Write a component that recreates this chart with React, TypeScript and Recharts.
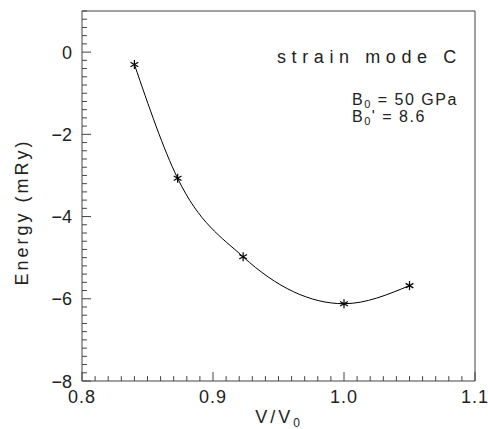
import React from 'react';
import { ComposedChart, Line, XAxis, YAxis, ReferenceLine } from 'recharts';

// strain mode C: E(V) points and fitted curve
const vRatio = [0.84, 0.873, 0.923, 1.0, 1.05];
const energy = [-0.3, -3.07, -4.98, -6.12, -5.68];

const xMajorTicks = [0.8, 0.9, 1.0, 1.1];
const yMajorTicks = [-8, -6, -4, -2, 0];
const xMinorStep = 0.01;
const yMinorStep = 0.2;

const xTicks = Array.from({ length: 31 }, (_, i) => Math.round((0.8 + i * xMinorStep) * 100) / 100);
const yTicks = Array.from({ length: 46 }, (_, i) => Math.round((-8 + i * yMinorStep) * 10) / 10);

const X_MIN = 0.8;
const X_MAX = 1.1;
const Y_MIN = -8;
const Y_MAX = 1;

const data = vRatio.map((v, i) => ({ v, e: energy[i] }));

const INK = '#222';
const AXIS = '#444';
const FONT = '"Liberation Sans", Arial, sans-serif';
const X_MARGIN = 8;
const Y_MARGIN = 10;

// inward tick lengths, in axis units (~5px minor, ~9px major)
const X_TICK_LEN = { minor: 0.12, major: 0.22 };
const Y_TICK_LEN = { minor: 0.0038, major: 0.0069 };

const isMajor = (list: number[], v: number) => list.some((m) => Math.abs(m - v) < 1e-6);

function XLabel({ x, y, payload }: any) {
  const v = payload.value;
  if (!isMajor(xMajorTicks, v)) return <g />;
  return (
    <text x={x} y={y - X_MARGIN + 22} textAnchor="middle" fill={INK} fontSize={18} fontFamily={FONT} letterSpacing={1}>
      {v.toFixed(1)}
    </text>
  );
}

function YLabel({ x, y, payload }: any) {
  const v = payload.value;
  if (!isMajor(yMajorTicks, v)) return <g />;
  return (
    <text x={x} y={y + 6.5} textAnchor="end" fill={INK} fontSize={18} fontFamily={FONT}>
      {v < 0 ? '\u2212' + Math.abs(v) : String(v)}
    </text>
  );
}

function Asterisk({ cx, cy }: any) {
  const r = 4.5;
  const dx = r * Math.cos(Math.PI / 6);
  const dy = r * Math.sin(Math.PI / 6);
  return (
    <g stroke="#000" strokeWidth={1.2}>
      <line x1={cx} y1={cy - r} x2={cx} y2={cy + r} />
      <line x1={cx - dx} y1={cy - dy} x2={cx + dx} y2={cy + dy} />
      <line x1={cx - dx} y1={cy + dy} x2={cx + dx} y2={cy - dy} />
    </g>
  );
}

const textStyle: React.CSSProperties = {
  position: 'absolute',
  fontFamily: FONT,
  color: INK,
  whiteSpace: 'nowrap',
  lineHeight: 1,
};

const sub = (s: string, size: number, top: number) => (
  <span style={{ fontSize: size, position: 'relative', top }}>{s}</span>
);

export default function App() {
  return (
    <div style={{ position: 'absolute', left: 0, top: 0, width: 488, height: 429, background: '#fff' }}>
      <ComposedChart width={488} height={429} data={data} margin={{ top: 11, right: 13, bottom: 0, left: 0 }}>
        <XAxis
          dataKey="v"
          type="number"
          domain={[X_MIN, X_MAX]}
          allowDataOverflow
          ticks={xTicks}
          interval={0}
          tickSize={0}
          tickMargin={X_MARGIN}
          tick={<XLabel />}
          tickLine={false}
          axisLine={{ stroke: AXIS }}
          height={48}
        />
        <YAxis
          type="number"
          domain={[Y_MIN, Y_MAX]}
          allowDataOverflow
          ticks={yTicks}
          interval={0}
          tickSize={0}
          tickMargin={Y_MARGIN}
          tick={<YLabel />}
          tickLine={false}
          axisLine={{ stroke: AXIS }}
          width={82}
        />
        {xTicks.map((t) => (
          <ReferenceLine
            key={`xt-${t}`}
            segment={[
              { x: t, y: Y_MIN },
              { x: t, y: Y_MIN + (isMajor(xMajorTicks, t) ? X_TICK_LEN.major : X_TICK_LEN.minor) },
            ]}
            stroke={AXIS}
            strokeWidth={1}
          />
        ))}
        {yTicks.map((t) => (
          <ReferenceLine
            key={`yt-${t}`}
            segment={[
              { x: X_MIN, y: t },
              { x: X_MIN + (isMajor(yMajorTicks, t) ? Y_TICK_LEN.major : Y_TICK_LEN.minor), y: t },
            ]}
            stroke={AXIS}
            strokeWidth={1}
          />
        ))}
        <ReferenceLine y={Y_MAX} stroke={AXIS} />
        <ReferenceLine x={X_MAX} stroke={AXIS} />
        <Line
          dataKey="e"
          type="monotoneX"
          stroke="#000"
          strokeWidth={1}
          dot={<Asterisk />}
          activeDot={false}
          isAnimationActive={false}
        />
      </ComposedChart>

      <div style={{ ...textStyle, left: 22, top: 212, fontSize: 18, letterSpacing: 3, transform: 'translate(-50%, -50%) rotate(-90deg)' }}>
        Energy (mRy)
      </div>
      <div style={{ ...textStyle, left: 279, top: 417, fontSize: 18, letterSpacing: 3, transform: 'translate(-50%, -50%)' }}>
        V/V{sub('0', 12, 4)}
      </div>
      <div style={{ ...textStyle, left: 277, top: 48, fontSize: 18, letterSpacing: 5.6 }}>strain mode C</div>
      <div style={{ ...textStyle, left: 352, top: 92, fontSize: 16, letterSpacing: 1.5 }}>
        B{sub('0', 11, 3)} = 50 GPa
      </div>
      <div style={{ ...textStyle, left: 352, top: 109, fontSize: 16, letterSpacing: 1.5 }}>
        B{sub('0', 11, 3)}' = 8.6
      </div>
    </div>
  );
}
